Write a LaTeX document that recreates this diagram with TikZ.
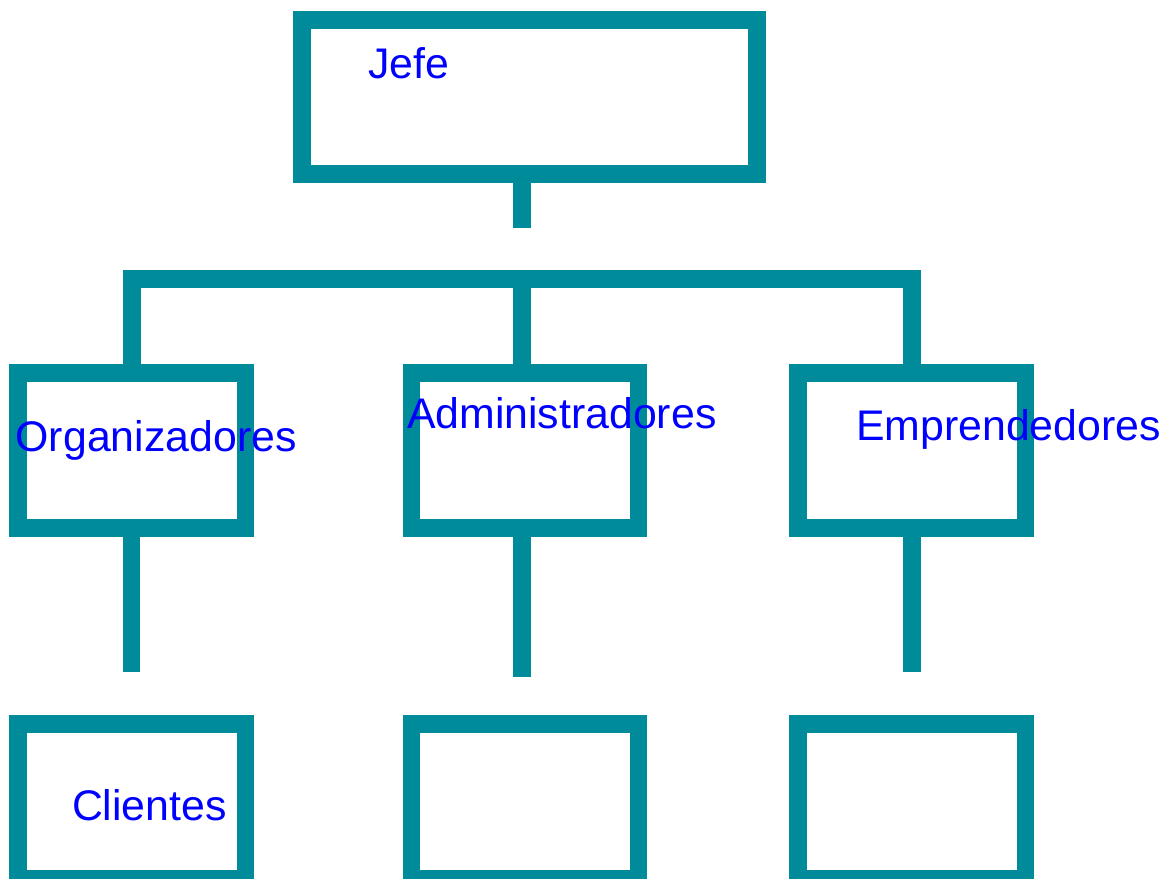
\documentclass[tikz,border=0pt]{standalone}
\usepackage{fontspec}
\setmainfont{Liberation Sans}
\definecolor{orgteal}{RGB}{0,139,155}

\begin{document}
\begin{tikzpicture}[x=0.01cm,y=-0.01cm,
   puesto/.style={draw=orgteal, line width=0.175cm, minimum width=2.273cm, minimum height=1.545cm, inner sep=0pt},
   linea/.style={draw=orgteal, line width=0.175cm},
   rotulo/.style={text=blue, font=\fontsize{12.18}{14.5}\selectfont, anchor=base west, inner sep=0pt}]
   \useasboundingbox (0,0) rectangle (1176,879);

   \node[puesto, minimum width=4.546cm, minimum height=1.542cm] (jefe) at (529.5,97.1) {};
   \node[puesto] (org) at (131.9,450.5) {};
   \node[puesto] (adm) at (525,450.5) {};
   \node[puesto] (emp) at (911.9,450.5) {};
   \node[puesto] (cli) at (131.9,801.3) {};
   \node[puesto] (adm2) at (525,801.3) {};
   \node[puesto] (emp2) at (911.9,801.3) {};

   \coordinate (jefefin) at (522,228);
   \coordinate (bus) at (522,279);
   \coordinate (orgfin) at (131.5,671.5);
   \coordinate (admfin) at (522,677);
   \coordinate (empfin) at (912,671.5);

   \draw[linea] (jefe.south -| jefefin) -- (jefefin);
   \draw[linea] (org.north) |- (bus) -| (emp.north);
   \draw[linea] (bus) -- (adm.north -| bus);
   \draw[linea] (org.south -| orgfin) -- (orgfin);
   \draw[linea] (adm.south -| admfin) -- (admfin);
   \draw[linea] (emp.south -| empfin) -- (empfin);

   \node[rotulo] (tjefe) at (367.3,78.3) {Jefe};
   \node[rotulo] (torg) at (14.9,451) {Organizadores};
   \node[rotulo] (tadm) at (406.3,428.3) {Administradores};
   \node[rotulo] (temp) at (855.5,440.7) {Emprendedores};
   \node[rotulo] (tcli) at (71.3,820) {Clientes};
\end{tikzpicture}
\end{document}
